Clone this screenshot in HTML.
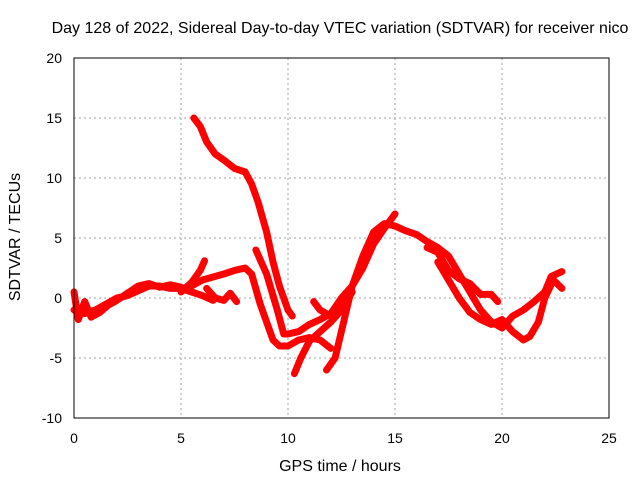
<!DOCTYPE html>
<html><head><meta charset="utf-8"><style>
body{margin:0;background:#fff}
svg{display:block;font-family:"Liberation Sans",sans-serif}
</style></head><body>
<svg id="chart" width="640" height="480">
<rect width="640" height="480" fill="#fff"/>
<text x="340" y="33" font-size="16" text-anchor="middle">Day 128 of 2022, Sidereal Day-to-day VTEC variation (SDTVAR) for receiver nico</text>
<g id="grid"></g>
<g id="ticks"></g>
<g id="series"></g>
<rect x="74" y="58" width="535" height="360" fill="none" stroke="#000" stroke-width="1"/>
<text x="340" y="471" font-size="16" text-anchor="middle">GPS time / hours</text>
<text transform="translate(20,237) rotate(-90)" font-size="16" text-anchor="middle">SDTVAR / TECUs</text>
</svg>
<script>
const xTicks=[0,5,10,15,20,25];
const yTicks=[-10,-5,0,5,10,15,20];
const trackBase=[[0,-1],[0.5,-1.3],[1,-1],[1.5,-0.5],[2,0],[2.5,0.2],[3,0.6],[3.5,1],[4,1],[4.5,0.8],[5,0.8],[5.5,0.5],[6,0.2],[6.5,-0.2]];
const trackNoise=[[0,0.5],[0.2,-1.8],[0.5,-0.3],[0.8,-1.6],[1.2,-1.2],[1.6,-0.6],[2,-0.2],[2.5,0.4],[3,1],[3.5,1.2],[4,0.9],[4.5,1.1],[5,0.9]];
const trackHigh=[[5.6,15],[5.9,14.3],[6.2,13],[6.6,12],[7,11.5],[7.5,10.8],[8,10.5],[8.3,9.5],[8.6,8],[9,5.5],[9.3,3],[9.6,1],[10,-1],[10.2,-1.5]];
const trackSpike=[[5,0.5],[5.5,1.3],[5.9,2.3],[6.1,3.1]];
const trackSide=[[6.2,0.8],[6.6,0],[7,-0.2],[7.3,0.4],[7.6,-0.3]];
const trackD=[[5.5,1],[6,1.5],[7,2],[7.5,2.3],[8,2.5],[8.3,2],[8.7,-0.5],[9,-2],[9.3,-3.5],[9.6,-4],[10,-4],[10.5,-3.5],[11,-3.3],[11.5,-3.5],[12,-4.2]];
const trackE=[[8.5,4],[9,2],[9.5,-1],[9.8,-3],[10,-3],[10.5,-2.8],[11,-2.2],[11.5,-1.8],[12,-1.3],[12.5,0],[13,1],[13.5,2.5],[14,4.5],[14.5,5.8],[15,7]];
const trackF=[[10.3,-6.3],[10.6,-5],[11,-3.6],[11.5,-2.8],[12,-2],[12.5,-1],[13,0.5]];
const trackG=[[11.8,-6],[12.2,-5],[12.6,-2],[13,1],[13.5,3.5],[14,5.5],[14.5,6.2],[15,6],[15.5,5.6],[16,5.3],[16.5,4.7],[17,4.2],[17.5,3.5],[18,2],[18.5,0.5],[19,-1],[19.5,-2],[20,-2.5],[20.5,-1.5],[21,-1],[21.5,-0.3],[22,0.5],[22.3,1.8],[22.8,2.2]];
const trackH=[[11.2,-0.3],[11.5,-1],[12,-1.5]];
const trackI=[[17,3],[17.5,1.5],[18,0],[18.5,-1.2],[19,-1.8],[19.5,-2.2],[20,-1.8],[20.5,-2.8],[21,-3.5],[21.3,-3.2],[21.7,-2],[22,0],[22.4,1.5],[22.8,0.8]];
const trackJ=[[16.5,4.2],[17,3.8],[17.5,2.3],[18,1.6],[18.5,1.2],[19,0.3],[19.5,0.3],[19.8,-0.3]];
const tracks=[trackBase,trackNoise,trackHigh,trackSpike,trackSide,trackD,trackE,trackF,trackG,trackH,trackI,trackJ];
const X0=74,X1=609,Y0=418,Y1=58,xMin=0,xMax=25,yMin=-10,yMax=20;
const sx=v=>X0+(v-xMin)/(xMax-xMin)*(X1-X0);
const sy=v=>Y0-(v-yMin)/(yMax-yMin)*(Y0-Y1);
const NS="http://www.w3.org/2000/svg";
const grid=document.getElementById('grid'),ticks=document.getElementById('ticks'),ser=document.getElementById('series');
function mk(tag,attrs,parent){const e=document.createElementNS(NS,tag);for(const k in attrs)e.setAttribute(k,attrs[k]);parent.appendChild(e);return e;}
xTicks.forEach(t=>{
  const x=sx(t);
  if(t>xMin&&t<xMax){const g=mk('line',{x1:x,x2:x,y1:Y1,y2:Y0,stroke:'#a0a0a0','stroke-dasharray':'2,3'},grid);
  
  }
  const tx=mk('text',{x:x,y:443,'font-size':14,'text-anchor':'middle'},ticks);tx.textContent=t;
  
  
});
yTicks.forEach(t=>{
  const y=sy(t);
  if(t>yMin&&t<yMax){const g=mk('line',{x1:X0,x2:X1,y1:y,y2:y,stroke:'#a0a0a0','stroke-dasharray':'2,3'},grid);
  
  }
  const tx=mk('text',{x:62,y:y+5,'font-size':14,'text-anchor':'end'},ticks);tx.textContent=t;
  
  
});
tracks.forEach(tr=>{
  const p=mk('polyline',{points:tr.map(d=>sx(d[0])+','+sy(d[1])).join(' '),fill:'none',stroke:'#ff0000','stroke-width':7,'stroke-linejoin':'round','stroke-linecap':'round'},ser);
  
  
});
</script>
</body></html>
